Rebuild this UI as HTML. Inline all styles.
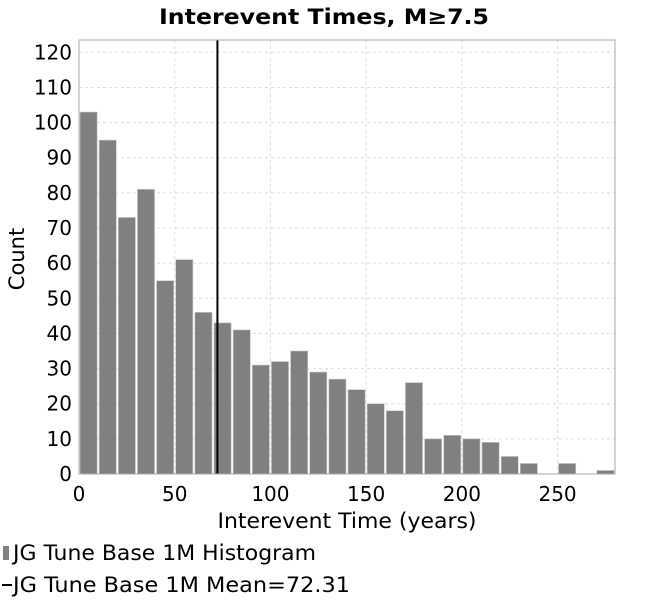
<!DOCTYPE html>
<html><head><meta charset="utf-8"><style>
body{margin:0;background:#fff;}
svg text{font-family:"DejaVu Sans","Liberation Sans",sans-serif;}
</style></head><body>
<svg id="chart" width="650" height="600" xmlns="http://www.w3.org/2000/svg">
<text x="324" y="24" text-anchor="middle" font-size="21" font-weight="bold" textLength="330" lengthAdjust="spacingAndGlyphs">Interevent Times, M≥7.5</text>
<g id="grid"></g>
<g id="bars"></g>
<g id="axes"></g>
<text x="347" y="528" text-anchor="middle" font-size="21" textLength="259" lengthAdjust="spacingAndGlyphs">Interevent Time (years)</text>
<text transform="translate(24,259) rotate(-90)" text-anchor="middle" font-size="21">Count</text>
<g>
<rect x="3" y="546" width="6" height="14" fill="#808080"/>
<text x="13" y="560" font-size="21" textLength="303" lengthAdjust="spacingAndGlyphs">JG Tune Base 1M Histogram</text>
<rect x="2" y="584" width="10" height="2" fill="#000"/>
<text x="13" y="592" font-size="21" textLength="337" lengthAdjust="spacingAndGlyphs">JG Tune Base 1M Mean=72.31</text>
</g>
</svg>
<script>
const binStarts=[0,10,20,30,40,50,60,70,80,90,100,110,120,130,140,150,160,170,180,190,200,210,220,230,240,250,260,270];
const counts=[103,95,73,81,55,61,46,43,41,31,32,35,29,27,24,20,18,26,10,11,10,9,5,3,0,3,0,1];
const binWidth=10;
const meanValue=72.31;
const xTicks=[0,50,100,150,200,250];
const yTicks=[0,10,20,30,40,50,60,70,80,90,100,110,120];
const L=79,R=615,T=40,B=474,XMAX=280,YMAX=123.5;
const NS="http://www.w3.org/2000/svg";
function xs(v){return L+v/XMAX*(R-L);}
function ys(v){return B-v/YMAX*(B-T);}
function mk(tag,attrs,parent){const e=document.createElementNS(NS,tag);for(const k in attrs)e.setAttribute(k,attrs[k]);parent.appendChild(e);return e;}
const grid=document.getElementById('grid'),bars=document.getElementById('bars'),axes=document.getElementById('axes');
mk('rect',{x:L,y:T,width:R-L,height:B-T,fill:'#fff'},grid);
yTicks.forEach(v=>{
 const g=mk('line',{x1:L,x2:R,y1:ys(v),y2:ys(v),stroke:'#ddd','stroke-dasharray':'3,3'},grid);
 
 
 const t=mk('text',{x:L-7,y:ys(v)+7,'text-anchor':'end','font-size':20},axes);
 
 
 t.textContent=v;
});
xTicks.forEach(v=>{
 const g=mk('line',{x1:xs(v),x2:xs(v),y1:T,y2:B,stroke:'#ddd','stroke-dasharray':'3,3'},grid);
 
 
 const t=mk('text',{x:xs(v),y:B+27,'text-anchor':'middle','font-size':20},axes);
 
 
 t.textContent=v;
});
binStarts.forEach((s,i)=>{
 if(counts[i]<=0)return;
 const r=mk('rect',{x:xs(s)+1,y:ys(counts[i]),width:xs(s+binWidth)-xs(s)-2,height:B-ys(counts[i]),fill:'#808080',stroke:'#c8c8c8','stroke-width':0.6},bars);
 
 
});
const m=mk('line',{x1:xs(meanValue),x2:xs(meanValue),y1:T,y2:B,stroke:'#000','stroke-width':2},bars);


const f=mk('rect',{x:L,y:T,width:R-L,height:B-T,fill:'none',stroke:'#aaa','stroke-width':1},axes);


</script>
</body></html>
